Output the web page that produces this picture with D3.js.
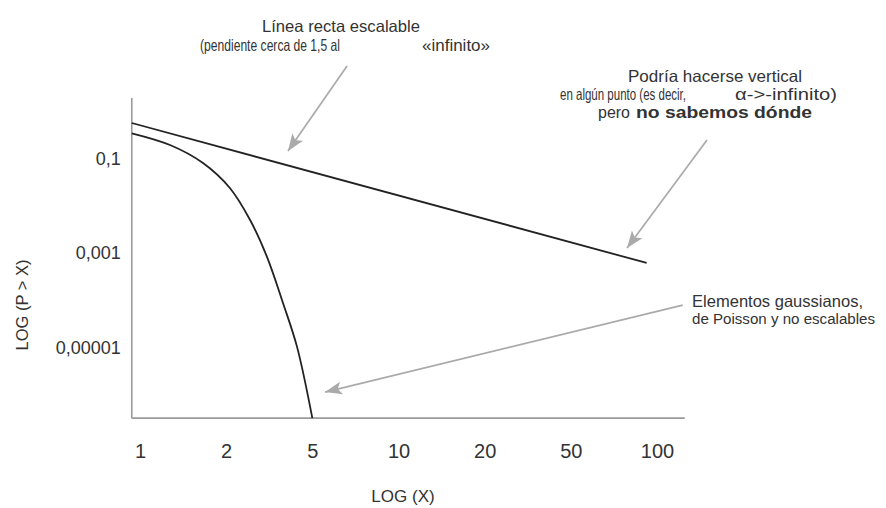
<!DOCTYPE html>
<html><head><meta charset="utf-8">
<script src="https://cdn.jsdelivr.net/npm/d3@7"></script>
<style>
body{margin:0;background:#fff}
svg{display:block}
text{font-family:"Liberation Sans",Arial,Helvetica,sans-serif;fill:#333}
</style>
</head><body>
<svg id="c" width="886" height="508"></svg>
<script>
// ---- data ----
const xTicks = [1, 2, 5, 10, 20, 50, 100];
const yTicks = [0.1, 0.001, 0.00001];
const yTickLabels = ["0,1", "0,001", "0,00001"];
const xLimits = [0.936, 125];          // extent of the x axis line
const pLimits = [0.00000032, 1.9];     // extent of the y axis line
// scalable (power law) straight line
const scalableX = [0.936, 92];
const scalableP = [0.564, 0.000616];
// gaussian / poisson curve
const gaussX = [0.936, 1.273, 1.66, 2.08, 2.58, 3.09, 3.66, 4.25, 5];
const gaussP = [0.341, 0.193, 0.0803, 0.0238, 0.00499, 0.00082, 0.0000875, 0.0000103, 0.00000032];
// annotation arrows: tail and tip in data units
const arrowTailX = [6.61, 149.5, 123];
const arrowTailP = [9.07, 0.246, 0.000079];
const arrowTipX  = [3.86, 78.6, 5.54];
const arrowTipP  = [0.144, 0.00128, 0.00000114];

const svg = d3.select("#c");
const xLeft = 140, xRight = 657;
const x = d3.scaleLog()
  .domain(xTicks)
  .range(xTicks.map((d, i) => xLeft + i * (xRight - xLeft) / (xTicks.length - 1)));
const y = d3.scaleLog().domain([0.00001, 0.1]).range([347.5, 158.5]);

// axes lines
const axisColor = "#9a9a9a";
svg.append("line")
  .attr("x1", x(xLimits[0])).attr("x2", x(xLimits[0]))
  .attr("y1", y(pLimits[1])).attr("y2", y(pLimits[0]))
  .attr("stroke", axisColor).attr("stroke-width", 1.6);
svg.append("line")
  .attr("x1", x(xLimits[0])).attr("x2", x(xLimits[1]))
  .attr("y1", y(pLimits[0])).attr("y2", y(pLimits[0]))
  .attr("stroke", axisColor).attr("stroke-width", 1.6);

// x tick labels
const gx = svg.append("g")
  .attr("transform", `translate(0,${y(pLimits[0])})`)
  .call(d3.axisBottom(x).tickValues(xTicks).tickFormat(d => String(d)).tickSize(0).tickPadding(26));
gx.select(".domain").remove();
gx.selectAll("text").attr("font-size", 20).attr("fill", "#333")
  .style("font-family", '"Liberation Sans",Arial,sans-serif');

// y tick labels
const gy = svg.append("g")
  .attr("transform", `translate(${x(xLimits[0])},0)`)
  .call(d3.axisLeft(y).tickValues(yTicks).tickFormat((d, i) => yTickLabels[i]).tickSize(0).tickPadding(11));
gy.select(".domain").remove();
gy.selectAll("text").attr("font-size", 18).attr("fill", "#333")
  .style("font-family", '"Liberation Sans",Arial,sans-serif');

// axis titles
svg.append("text").attr("x", 403).attr("y", 502).attr("text-anchor", "middle")
  .attr("font-size", 17).text("LOG (X)");
svg.append("text").attr("transform", "translate(28,305) rotate(-90)")
  .attr("text-anchor", "middle").attr("font-size", 16.5).text("LOG (P > X)");

// lines
const line = d3.line().x(d => x(d[0])).y(d => y(d[1]));
svg.append("path")
  .datum(scalableX.map((d, i) => [d, scalableP[i]]))
  .attr("d", line).attr("fill", "none").attr("stroke", "#222").attr("stroke-width", 1.8);
svg.append("path")
  .datum(gaussX.map((d, i) => [d, gaussP[i]]))
  .attr("d", line.curve(d3.curveCatmullRom))
  .attr("fill", "none").attr("stroke", "#222").attr("stroke-width", 1.8);

// arrows
const arrowColor = "#aaaaaa";
svg.append("defs").append("marker")
  .attr("id", "ah").attr("markerUnits", "userSpaceOnUse")
  .attr("viewBox", "-18 -8 20 16").attr("markerWidth", 20).attr("markerHeight", 16)
  .attr("refX", 0).attr("refY", 0).attr("orient", "auto")
  .append("path").attr("d", "M0,0L-17,-6.5L-13,0L-17,6.5Z").attr("fill", arrowColor);
arrowTailX.forEach((d, i) => {
  svg.append("line")
    .attr("x1", x(d)).attr("y1", y(arrowTailP[i]))
    .attr("x2", x(arrowTipX[i])).attr("y2", y(arrowTipP[i]))
    .attr("stroke", arrowColor).attr("stroke-width", 1.7)
    .attr("marker-end", "url(#ah)");
});

// annotation texts
const fs = 16.5;
function piece(t, str, x0, w, bold, adj) {
  const s = t.append("tspan").attr("x", x0).text(str);
  if (w) s.attr("textLength", w).attr("lengthAdjust", adj || "spacingAndGlyphs");
  if (bold) s.attr("font-weight", "bold");
  return s;
}
let t;
t = svg.append("text").attr("y", 32).attr("font-size", fs);
piece(t, "Línea recta escalable", 262, 158);
t = svg.append("text").attr("y", 51).attr("font-size", fs);
piece(t, "(pendiente cerca de 1,5 al", 200, 140);
piece(t, "«infinito»", 422, 68);

t = svg.append("text").attr("y", 82).attr("font-size", fs);
piece(t, "Podría hacerse vertical", 628, 174);
t = svg.append("text").attr("y", 100).attr("font-size", fs);
piece(t, "en algún punto (es decir,", 560, 126);
piece(t, "α->-infinito)", 735, 102);
t = svg.append("text").attr("y", 118).attr("font-size", fs);
piece(t, "pero", 598, 32);
piece(t, "no sabemos dónde", 636, 176, true);

t = svg.append("text").attr("y", 307).attr("font-size", fs);
piece(t, "Elementos gaussianos,", 692, 171);
t = svg.append("text").attr("y", 324).attr("font-size", 15.5);
piece(t, "de Poisson y no escalables", 692, 183);
</script>
</body></html>
